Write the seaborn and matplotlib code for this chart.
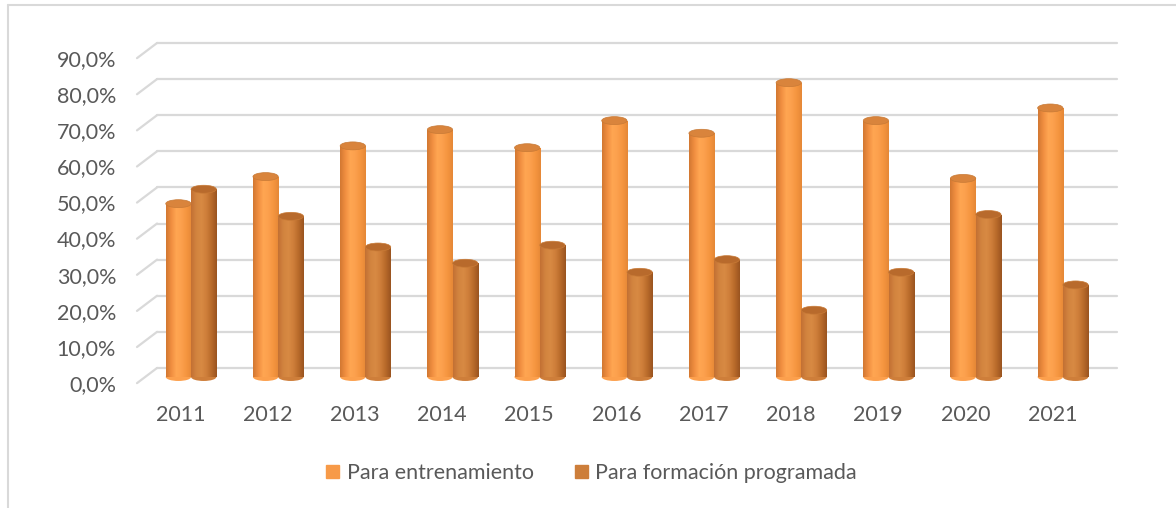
import numpy as np
import pandas as pd
import matplotlib
matplotlib.use('Agg')
import matplotlib.pyplot as plt
from matplotlib.patches import Ellipse
from matplotlib.colors import LinearSegmentedColormap
from matplotlib.lines import Line2D
from matplotlib.transforms import ScaledTranslation
import seaborn as sns

# datos
anios = ['2011', '2012', '2013', '2014', '2015', '2016', '2017', '2018', '2019', '2020', '2021']
entrenamiento = [48.0, 55.5, 64.0, 68.5, 63.5, 71.0, 67.5, 81.5, 71.0, 55.0, 74.5]
formacion = [52.0, 44.5, 36.0, 31.5, 36.5, 29.0, 32.5, 18.5, 29.0, 45.0, 25.5]
series = ['Para entrenamiento', 'Para formación programada']
ticks_y = [0.0, 0.1, 0.2, 0.3, 0.4, 0.5, 0.6, 0.7, 0.8, 0.9]

df = pd.DataFrame({
    'anio': anios * 2,
    'valor': [v / 100 for v in entrenamiento + formacion],
    'serie': [series[0]] * len(anios) + [series[1]] * len(anios),
})

colores = {series[0]: '#F79A48', series[1]: '#CD7E3A'}
# perfil del cilindro (izq -> der)
grad = {
    series[0]: ['#D27832', '#F08E40', '#FFA652', '#FCA04D', '#F5953F', '#E58837'],
    series[1]: ['#C27034', '#D2843F', '#D88A43', '#CE7E3A', '#B86A2A', '#9A5420'],
}
tapa = {series[0]: '#D9843C', series[1]: '#B86A2C'}

sns.set_style('white')
plt.rcParams['font.family'] = ['Lato', 'DejaVu Sans']

fig = plt.figure(figsize=(11.76, 5.08), dpi=100)
ax = fig.add_axes([137 / 1176, 131 / 508, 980 / 1176, 325 / 508])

sns.barplot(data=df, x='anio', y='valor', hue='serie', palette=colores,
            width=0.58, gap=0, ax=ax, legend=False, zorder=3, linewidth=0)

xmin, xmax = -0.62, 10.62
ymax = 0.9
eh = 0.022     # alto de la elipse (datos)
fondo = 0.025  # desplazamiento de la pared del fondo
frente = 0.017  # desplazamiento del plano frontal

for cont, s in zip(ax.containers, series):
    cmap = LinearSegmentedColormap.from_list(s, grad[s])
    img = np.linspace(0, 1, 64).reshape(1, -1)
    for p in cont:
        x0, w, h = p.get_x(), p.get_width(), p.get_height()
        xc = x0 + w / 2
        base = Ellipse((xc, 0), w, eh, facecolor=grad[s][3], edgecolor='none',
                       zorder=2, clip_on=False)
        ax.add_patch(base)
        im = ax.imshow(img, cmap=cmap, extent=[x0, x0 + w, 0, h], aspect='auto',
                       zorder=4, interpolation='bilinear')
        im.set_clip_path(p)
        top = Ellipse((xc, h), w, eh, facecolor=tapa[s], edgecolor='#C87A36',
                      linewidth=0.5, zorder=5, clip_on=False)
        ax.add_patch(top)

ax.set_xlim(xmin, xmax)
ax.set_ylim(0, ymax)

# rejilla en la pared del fondo con el tramo en perspectiva
for v in ticks_y:
    ax.plot([-0.39, xmax], [v + fondo, v + fondo], color='#D9D9D9', lw=1.6,
            zorder=1, clip_on=False)
    ax.plot([xmin, -0.39], [v - frente, v + fondo], color='#D9D9D9', lw=1.6,
            zorder=1, clip_on=False)

ax.set_yticks(ticks_y)
ax.set_yticklabels([f'{v * 100:.1f}%'.replace('.', ',') for v in ticks_y])
ax.tick_params(axis='y', length=0, pad=15, labelsize=15.5, labelcolor='#595959')
ax.tick_params(axis='x', length=0, pad=20, labelsize=15.5, labelcolor='#595959')
for lab in ax.get_yticklabels():
    lab.set_transform(lab.get_transform() + ScaledTranslation(0, -0.06, fig.dpi_scale_trans))
for lab in ax.get_xticklabels():
    lab.set_transform(lab.get_transform() + ScaledTranslation(-0.105, 0, fig.dpi_scale_trans))
ax.set_xlabel('')
ax.set_ylabel('')
for sp in ax.spines.values():
    sp.set_visible(False)

handles = [plt.Rectangle((0, 0), 1, 1, color=colores[s]) for s in series]
fig.legend(handles, series, loc='center', bbox_to_anchor=(0.503, 0.069), ncol=2,
           frameon=False, fontsize=15.5, handlelength=0.6, handleheight=0.6,
           handletextpad=0.35, columnspacing=1.9, labelcolor='#595959')

# borde del area del grafico
fig.add_artist(Line2D([8 / 1176, 8 / 1176], [0, 1 - 5 / 508], color='#D9D9D9', lw=1.5,
                      transform=fig.transFigure))
fig.add_artist(Line2D([8 / 1176, 1], [1 - 5 / 508, 1 - 5 / 508], color='#D9D9D9', lw=1.5,
                      transform=fig.transFigure))

fig.savefig('out.png', dpi=100)
